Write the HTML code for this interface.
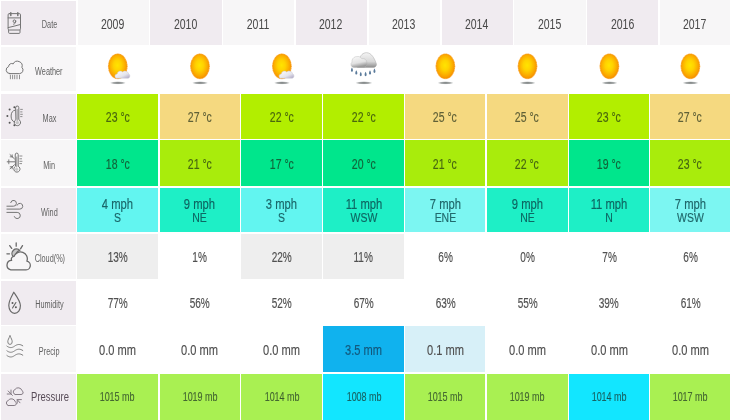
<!DOCTYPE html>
<html><head><meta charset="utf-8"><title>Weather history</title>
<style>
html,body{margin:0;padding:0;overflow:hidden;}
body{width:730px;height:420px;background:#fff;position:relative;overflow:hidden;font-family:"Liberation Sans",sans-serif;}
.c{position:absolute;display:flex;align-items:center;justify-content:center;text-align:center;}
.c span{display:inline-block;white-space:nowrap;transform-origin:50% 50%;position:relative;top:.9px;}
.lbl span{font-size:10px;color:#626262;transform:scaleX(.73);top:2.2px;}
.lbl.big span{font-size:13.5px;color:#584c58;transform:scaleX(.70);top:-.3px;}
.yr span{font-size:14px;color:#484848;transform:scaleX(.75);top:1.4px;}
.t14 span{font-size:14.7px;color:rgba(25,40,20,.68);-webkit-text-stroke:.18px currentColor;top:.5px;}
.t12 span{font-size:12.4px;color:rgba(25,45,35,.7);-webkit-text-stroke:.15px currentColor;top:.3px;}
.deg span{transform:scaleX(.715);}
.wind span{transform:scaleX(.765);line-height:12.5px;top:1.1px;color:rgba(10,70,75,.8);}
.wind i{font-style:normal;font-size:13.7px;position:relative;top:.7px;}
.pct span{transform:scaleX(.685);color:#505050;}
.mm span{transform:scaleX(.755);color:#505050;}
.mb span{transform:scaleX(.725);}
.ic{position:absolute;}
</style></head><body>

<div class="c" style="left:1px;top:0.8px;width:74.6px;height:44.3px;background:#f0ebf0"></div>
<div class="c lbl" style="left:19.200000000000003px;top:0px;width:60px;height:45.1px"><span>Date</span></div>
<div class="c" style="left:1px;top:46.5px;width:74.6px;height:44.8px;background:#f7f6f7"></div>
<div class="c lbl" style="left:19.200000000000003px;top:46.5px;width:60px;height:44.8px"><span>Weather</span></div>
<div class="c" style="left:1px;top:93.7px;width:74.6px;height:45.0px;background:#f0ebf0"></div>
<div class="c lbl" style="left:19.200000000000003px;top:93.7px;width:60px;height:45.0px"><span>Max</span></div>
<div class="c" style="left:1px;top:140.3px;width:74.6px;height:45.6px;background:#f7f6f7"></div>
<div class="c lbl" style="left:19.200000000000003px;top:140.3px;width:60px;height:45.6px"><span>Min</span></div>
<div class="c" style="left:1px;top:187.7px;width:74.6px;height:44.3px;background:#f0ebf0"></div>
<div class="c lbl" style="left:19.200000000000003px;top:187.7px;width:60px;height:44.3px"><span>Wind</span></div>
<div class="c" style="left:1px;top:233.6px;width:74.6px;height:45.4px;background:#f7f6f7"></div>
<div class="c lbl" style="left:20.0px;top:233.6px;width:60px;height:45.4px"><span>Cloud(%)</span></div>
<div class="c" style="left:1px;top:280.7px;width:74.6px;height:44.0px;background:#f0ebf0"></div>
<div class="c lbl" style="left:19.200000000000003px;top:280.7px;width:60px;height:44.0px"><span>Humidity</span></div>
<div class="c" style="left:1px;top:326.4px;width:74.6px;height:45.8px;background:#f7f6f7"></div>
<div class="c lbl" style="left:19.200000000000003px;top:326.4px;width:60px;height:45.8px"><span>Precip</span></div>
<div class="c" style="left:1px;top:373.8px;width:74.6px;height:46.2px;background:#f0ebf0"></div>
<div class="c lbl big" style="left:19.6px;top:373.8px;width:60px;height:46.2px"><span>Pressure</span></div>
<div class="c" style="left:77.6px;top:0px;width:71.3px;height:45.1px;background:#f7f6f7"></div>
<div class="c yr" style="left:76.9px;top:0px;width:71.4px;height:45.1px"><span>2009</span></div>
<div class="c" style="left:150.4px;top:0px;width:71.3px;height:45.1px;background:#f0ebf0"></div>
<div class="c yr" style="left:149.7px;top:0px;width:71.4px;height:45.1px"><span>2010</span></div>
<div class="c" style="left:223.2px;top:0px;width:71.3px;height:45.1px;background:#f7f6f7"></div>
<div class="c yr" style="left:222.5px;top:0px;width:71.4px;height:45.1px"><span>2011</span></div>
<div class="c" style="left:296.0px;top:0px;width:71.3px;height:45.1px;background:#f0ebf0"></div>
<div class="c yr" style="left:295.3px;top:0px;width:71.4px;height:45.1px"><span>2012</span></div>
<div class="c" style="left:368.8px;top:0px;width:71.3px;height:45.1px;background:#f7f6f7"></div>
<div class="c yr" style="left:368.1px;top:0px;width:71.4px;height:45.1px"><span>2013</span></div>
<div class="c" style="left:441.6px;top:0px;width:71.3px;height:45.1px;background:#f0ebf0"></div>
<div class="c yr" style="left:440.9px;top:0px;width:71.4px;height:45.1px"><span>2014</span></div>
<div class="c" style="left:514.4px;top:0px;width:71.3px;height:45.1px;background:#f7f6f7"></div>
<div class="c yr" style="left:513.7px;top:0px;width:71.4px;height:45.1px"><span>2015</span></div>
<div class="c" style="left:587.2px;top:0px;width:71.3px;height:45.1px;background:#f0ebf0"></div>
<div class="c yr" style="left:586.5px;top:0px;width:71.4px;height:45.1px"><span>2016</span></div>
<div class="c" style="left:660.0px;top:0px;width:70.0px;height:45.1px;background:#f7f6f7"></div>
<div class="c yr" style="left:659.3px;top:0px;width:71.4px;height:45.1px"><span>2017</span></div>
<svg class="ic" style="left:0;top:0" width="730" height="420" viewBox="0 0 730 420"><defs>
<radialGradient id="sg" cx="48%" cy="46%" r="60%"><stop offset="0" stop-color="#ffe400"/><stop offset=".35" stop-color="#ffd200"/><stop offset=".62" stop-color="#fcb400"/><stop offset=".84" stop-color="#f89a00"/><stop offset="1" stop-color="#ef7e00"/></radialGradient>
<radialGradient id="sh" cx="50%" cy="50%" r="50%"><stop offset="0" stop-color="#565c5c" stop-opacity=".85"/><stop offset=".6" stop-color="#666c6c" stop-opacity=".55"/><stop offset="1" stop-color="#868c8c" stop-opacity="0"/></radialGradient>
<linearGradient id="cg" x1="0" y1="0" x2="0" y2="1"><stop offset="0" stop-color="#f4f4f4"/><stop offset=".6" stop-color="#d8d8d8"/><stop offset="1" stop-color="#8c8c8c"/></linearGradient>
<linearGradient id="cg2" x1="0" y1="0" x2=".3" y2="1"><stop offset="0" stop-color="#fbfbfb"/><stop offset=".65" stop-color="#e2e2e2"/><stop offset="1" stop-color="#9a9a9a"/></linearGradient>
<linearGradient id="cw" x1="0" y1="0" x2="1" y2="1"><stop offset="0" stop-color="#ffffff"/><stop offset=".6" stop-color="#e4e4ec"/><stop offset="1" stop-color="#a9a0c0"/></linearGradient>
<filter id="bl" x="-20%" y="-20%" width="140%" height="140%"><feGaussianBlur stdDeviation=".5"/></filter>
</defs>
<g fill="none" stroke="#757575" stroke-width="1.0" stroke-linecap="round" stroke-linejoin="round">
<rect x="8.1" y="13.6" width="12.4" height="16.4" rx="1.2"/>
<path d="M8.1 17.9H20.5"/>
<path d="M10.8 12.8V15.4M17.8 12.8V15.4" stroke-width="1.5"/>
<circle cx="14.4" cy="21.2" r="1.3"/><path d="M15.7 21.2C15.7 23 15 24 13.6 24.2"/>
<path d="M8.2 27.6C12 26.8 16 25.6 20.4 24.5"/>
<path d="M8.6 30.2V32.4Q8.6 33.4 9.6 33.4H19Q20 33.4 20 32.4V30.2"/>
</g>
<g fill="none" stroke="#757575" stroke-width="1.0" stroke-linecap="round" stroke-linejoin="round">
<path d="M9.8 73.6H19.4A3.6 3.6 0 0 0 21.9 67.4A4.7 4.7 0 0 0 13.2 63.9A3.1 3.1 0 0 0 8.6 66.6A3.6 3.6 0 0 0 9.8 73.6Z"/>
<path d="M10.4 75.2V78.8M12.6 75.2V78.8M14.7 75.2V78.8M17 75.2V78.8M19.5 75.2V78.8" stroke-width=".8"/>
</g>
<g fill="none" stroke="#757575" stroke-width="1.0" stroke-linecap="round" stroke-linejoin="round">
<path d="M15.6 107.6A1.6 1.6 0 0 1 18.8 107.6V119.6A3.2 3.2 0 1 1 15.6 119.8Z"/>
<circle cx="17.3" cy="122.6" r="1.7" fill="#c4c4c4" stroke="none"/>
<path d="M17.2 109.5V120.5" stroke-width=".7"/>
<path d="M14.8 110.2A4.4 6 0 0 0 14.6 122"/>
<path d="M20.6 109.4H22.4M20.6 111.9H22.0M20.6 114.3H22.4M20.6 116.6H22.0" stroke-width=".8"/>
<g fill="#555" stroke="none"><circle cx="9.6" cy="109.5" r="1"/><circle cx="7.4" cy="116.1" r="1"/><circle cx="9.6" cy="122.7" r="1"/><circle cx="14.4" cy="107.3" r="1"/><circle cx="14.4" cy="125.3" r="1"/></g>
</g>
<g fill="none" stroke="#757575" stroke-width="1.0" stroke-linecap="round" stroke-linejoin="round">
<path d="M15.2 154.6A1.5 1.5 0 0 1 18.2 154.6V166.2A3.1 3.1 0 1 1 15.2 166.4Z"/>
<path d="M16.7 157V167" stroke-width=".7"/>
<circle cx="16.6" cy="169.3" r="1.6" fill="#c8c8c8" stroke="none"/>
<path d="M7.2 161.8H14.6M10 154.6L14.4 158.8M10 168.8L14.4 164.8"/>
<path d="M8.8 159.8V163.8M10.2 156.8H12.4M12.2 154.8V157M10.2 166.8H12.4M12.2 166.6V168.8" stroke-width=".9"/>
<path d="M19.8 156H22M19.8 158.8H21.6M19.8 161.3H22M19.8 163.6H21.6" stroke-width=".8"/>
</g>
<g fill="none" stroke="#757575" stroke-width="1.0" stroke-linecap="round" stroke-linejoin="round">
<path d="M6.9 206.2H13.4A2.9 2.9 0 1 0 10.7 202.6"/>
<path d="M6.9 209.1H19.8A2.9 2.9 0 1 0 17.1 205.2"/>
<path d="M6.9 212.4H17.2A3.1 3.1 0 1 1 14.3 216.6"/>
</g>
<g fill="none" stroke="#6a6a6a" stroke-width="1.3" stroke-linecap="round" stroke-linejoin="round">
<path d="M13.2 256.6A4 4 0 0 1 19.8 250.4A6.6 6.6 0 0 0 15.6 257Z" fill="#c6c6c6"/>
<path d="M10.8 269.8H24.8A4.4 4.4 0 0 0 26.9 261.2A6.8 6.8 0 0 0 14 256.4A2.8 2.8 0 0 0 11.6 260.4A4.75 4.75 0 0 0 10.8 269.8Z" fill="#f7f6f7"/>
<path d="M16.2 242.8V246.2M9.7 245.6L11.7 248.4M22.5 245.6L20.5 248.8M6.9 253.8H9.5"/>
</g>
<g fill="none" stroke="#686868" stroke-width="1.15" stroke-linecap="round" stroke-linejoin="round">
<path d="M13.8 292.2C11.2 297 8.7 301 8.8 305.6C8.9 310 11.4 313.3 14.6 313.3C18 313.3 20.5 310 20.4 305.6C20.3 301 16.6 296.4 13.8 292.2Z"/>
<path d="M15.9 302.5L12.5 308"/>
<circle cx="12.5" cy="303" r="1" fill="#5a5a5a" stroke="none"/><circle cx="15.9" cy="307.2" r="1" fill="#5a5a5a" stroke="none"/>
</g>
<g fill="none" stroke="#808080" stroke-width="1.0" stroke-linecap="round" stroke-linejoin="round">
<path d="M10 335.9C8.8 338.4 7.8 340 7.8 341.8A2.2 2.6 0 0 0 12.2 341.8C12.2 340 11.2 338.4 10 335.9Z"/>
<path d="M6.9 346.1C9.5 348.2 12 348 14.5 346.2C17.5 344 20 343.9 22.8 345.8"/>
<path d="M6.9 350.8C9.5 352.9 12 352.7 14.5 350.9C17.5 348.7 20 348.6 22.8 350.5"/>
<path d="M6.9 355.5C9.5 357.6 12 357.4 14.5 355.6C17.5 353.4 20 353.3 22.8 355.2"/>
</g>
<g fill="none" stroke="#857c85" stroke-width="1.0" stroke-linecap="round" stroke-linejoin="round">
<path d="M15.3 394.5H21A2 2 0 0 0 22 390.7A3.9 3.9 0 0 0 15 389.5A2.6 2.6 0 0 0 15.3 394.5Z"/>
<path d="M8.3 405.5H14.2A2 2 0 0 0 15.2 401.7A3.9 3.9 0 0 0 8.2 400.5A2.6 2.6 0 0 0 8.3 405.5Z"/>
<path d="M7.2 394H11V390M11 394L8.2 391M11.2 394.2L12.4 395.4"/>
<path d="M21.4 399.6H17.2V403.2M17.2 399.6L20 402.8"/>
</g>
<ellipse cx="117.9" cy="82.9" rx="8.2" ry="1.7" fill="url(#sh)"/>
<ellipse cx="117.8" cy="66.3" rx="9.9" ry="12.9" fill="#ffa820" opacity=".5" filter="url(#bl)"/>
<ellipse cx="117.8" cy="66.3" rx="9.2" ry="12.2" fill="url(#sg)" stroke="#f58a00" stroke-width=".7" stroke-dasharray="1 .7"/>
<path transform="translate(114.0 70.4)" d="M2.2 7.8H14.2A2.4 2.4 0 0 0 14.6 3.4A3.6 3.6 0 0 0 8.6 1.6A3.2 3.2 0 0 0 3.2 3.6A2.2 2.2 0 0 0 2.2 7.8Z" fill="url(#cw)" stroke="#c9c9d4" stroke-width=".5"/>
<ellipse cx="200.1" cy="82.9" rx="8.2" ry="1.7" fill="url(#sh)"/>
<ellipse cx="200.0" cy="66.3" rx="9.9" ry="12.9" fill="#ffa820" opacity=".5" filter="url(#bl)"/>
<ellipse cx="200.0" cy="66.3" rx="9.2" ry="12.2" fill="url(#sg)" stroke="#f58a00" stroke-width=".7" stroke-dasharray="1 .7"/>
<ellipse cx="282.0" cy="82.9" rx="8.2" ry="1.7" fill="url(#sh)"/>
<ellipse cx="281.9" cy="66.3" rx="9.9" ry="12.9" fill="#ffa820" opacity=".5" filter="url(#bl)"/>
<ellipse cx="281.9" cy="66.3" rx="9.2" ry="12.2" fill="url(#sg)" stroke="#f58a00" stroke-width=".7" stroke-dasharray="1 .7"/>
<path transform="translate(278.1 70.4)" d="M2.2 7.8H14.2A2.4 2.4 0 0 0 14.6 3.4A3.6 3.6 0 0 0 8.6 1.6A3.2 3.2 0 0 0 3.2 3.6A2.2 2.2 0 0 0 2.2 7.8Z" fill="url(#cw)" stroke="#c9c9d4" stroke-width=".5"/>
<ellipse cx="363.9" cy="82.9" rx="8.8" ry="1.7" fill="url(#sh)"/>
<g transform="translate(350.4 52.4)"><path d="M7 15H23.4A3 3 0 0 0 25.6 10.4C24 6 21 .3 16.2 .3C12.4 .3 10 3 9.2 6.4Z" fill="url(#cg)" stroke="#a2a2a2" stroke-width=".5"/><path d="M3.4 15A3 3 0 0 1 1.5 9.8A5.5 5.5 0 0 1 11.4 6.2A4.6 4.6 0 0 1 13.8 15Z" fill="url(#cg2)" stroke="#b4b4b4" stroke-width=".4"/><path d="M2.8 14.7H24" stroke="#7c7c7c" stroke-width="1" opacity=".75" filter="url(#bl)"/></g>
<path d="M351.9 67.4C350.6 69.6 350.6 71.8 351.9 71.8C353.3 71.8 353.3 69.6 351.9 67.4Z" fill="#5b7b9b"/>
<path d="M356.3 70.2C354.9 72.4 354.9 74.6 356.3 74.6C357.7 74.6 357.7 72.4 356.3 70.2Z" fill="#5b7b9b"/>
<path d="M360.8 71.8C359.4 74.0 359.4 76.2 360.8 76.2C362.1 76.2 362.1 74.0 360.8 71.8Z" fill="#5b7b9b"/>
<path d="M365.6 71.8C364.2 74.0 364.2 76.2 365.6 76.2C367.0 76.2 367.0 74.0 365.6 71.8Z" fill="#5b7b9b"/>
<path d="M370.0 70.2C368.6 72.4 368.6 74.6 370.0 74.6C371.4 74.6 371.4 72.4 370.0 70.2Z" fill="#5b7b9b"/>
<path d="M374.4 68.5C373.1 70.7 373.1 72.9 374.4 72.9C375.8 72.9 375.8 70.7 374.4 68.5Z" fill="#5b7b9b"/>
<ellipse cx="445.6" cy="82.9" rx="8.2" ry="1.7" fill="url(#sh)"/>
<ellipse cx="445.4" cy="66.3" rx="9.9" ry="12.9" fill="#ffa820" opacity=".5" filter="url(#bl)"/>
<ellipse cx="445.4" cy="66.3" rx="9.2" ry="12.2" fill="url(#sg)" stroke="#f58a00" stroke-width=".7" stroke-dasharray="1 .7"/>
<ellipse cx="527.6" cy="82.9" rx="8.2" ry="1.7" fill="url(#sh)"/>
<ellipse cx="527.5" cy="66.3" rx="9.9" ry="12.9" fill="#ffa820" opacity=".5" filter="url(#bl)"/>
<ellipse cx="527.5" cy="66.3" rx="9.2" ry="12.2" fill="url(#sg)" stroke="#f58a00" stroke-width=".7" stroke-dasharray="1 .7"/>
<ellipse cx="609.5" cy="82.9" rx="8.2" ry="1.7" fill="url(#sh)"/>
<ellipse cx="609.4" cy="66.3" rx="9.9" ry="12.9" fill="#ffa820" opacity=".5" filter="url(#bl)"/>
<ellipse cx="609.4" cy="66.3" rx="9.2" ry="12.2" fill="url(#sg)" stroke="#f58a00" stroke-width=".7" stroke-dasharray="1 .7"/>
<ellipse cx="690.5" cy="82.9" rx="8.2" ry="1.7" fill="url(#sh)"/>
<ellipse cx="690.4" cy="66.3" rx="9.9" ry="12.9" fill="#ffa820" opacity=".5" filter="url(#bl)"/>
<ellipse cx="690.4" cy="66.3" rx="9.2" ry="12.2" fill="url(#sg)" stroke="#f58a00" stroke-width=".7" stroke-dasharray="1 .7"/>
</svg>
<div class="c t14 deg" style="left:76.85px;top:93.7px;width:81.50px;height:45.0px;background:#b2ee00;"><span>23 °c</span></div>
<div class="c t14 deg" style="left:159.65px;top:93.7px;width:80.30px;height:45.0px;background:#f5d980;"><span>27 °c</span></div>
<div class="c t14 deg" style="left:241.25px;top:93.7px;width:80.90px;height:45.0px;background:#b2ee00;"><span>22 °c</span></div>
<div class="c t14 deg" style="left:323.45px;top:93.7px;width:80.40px;height:45.0px;background:#b2ee00;"><span>22 °c</span></div>
<div class="c t14 deg" style="left:405.15px;top:93.7px;width:80.20px;height:45.0px;background:#f5d980;"><span>25 °c</span></div>
<div class="c t14 deg" style="left:486.65px;top:93.7px;width:81.30px;height:45.0px;background:#f5d980;"><span>25 °c</span></div>
<div class="c t14 deg" style="left:569.25px;top:93.7px;width:79.90px;height:45.0px;background:#b2ee00;"><span>23 °c</span></div>
<div class="c t14 deg" style="left:650.45px;top:93.7px;width:79.55px;height:45.0px;background:#f5d980;"><span>27 °c</span></div>
<div class="c t14 deg" style="left:76.85px;top:140.3px;width:81.50px;height:45.6px;background:#00e68c;"><span>18 °c</span></div>
<div class="c t14 deg" style="left:159.65px;top:140.3px;width:80.30px;height:45.6px;background:#a9ec0c;"><span>21 °c</span></div>
<div class="c t14 deg" style="left:241.25px;top:140.3px;width:80.90px;height:45.6px;background:#00e68c;"><span>17 °c</span></div>
<div class="c t14 deg" style="left:323.45px;top:140.3px;width:80.40px;height:45.6px;background:#00e68c;"><span>20 °c</span></div>
<div class="c t14 deg" style="left:405.15px;top:140.3px;width:80.20px;height:45.6px;background:#a9ec0c;"><span>21 °c</span></div>
<div class="c t14 deg" style="left:486.65px;top:140.3px;width:81.30px;height:45.6px;background:#a9ec0c;"><span>22 °c</span></div>
<div class="c t14 deg" style="left:569.25px;top:140.3px;width:79.90px;height:45.6px;background:#00e68c;"><span>19 °c</span></div>
<div class="c t14 deg" style="left:650.45px;top:140.3px;width:79.55px;height:45.6px;background:#a9ec0c;"><span>23 °c</span></div>
<div class="c t14 wind" style="left:76.85px;top:187.7px;width:81.50px;height:44.3px;background:#62f5f0;"><span>4 mph<br><i>S</i></span></div>
<div class="c t14 wind" style="left:159.65px;top:187.7px;width:80.30px;height:44.3px;background:#1eefc6;"><span>9 mph<br><i>NE</i></span></div>
<div class="c t14 wind" style="left:241.25px;top:187.7px;width:80.90px;height:44.3px;background:#62f5f0;"><span>3 mph<br><i>S</i></span></div>
<div class="c t14 wind" style="left:323.45px;top:187.7px;width:80.40px;height:44.3px;background:#1eefc6;"><span>11 mph<br><i>WSW</i></span></div>
<div class="c t14 wind" style="left:405.15px;top:187.7px;width:80.20px;height:44.3px;background:#7cf6f2;"><span>7 mph<br><i>ENE</i></span></div>
<div class="c t14 wind" style="left:486.65px;top:187.7px;width:81.30px;height:44.3px;background:#1eefc6;"><span>9 mph<br><i>NE</i></span></div>
<div class="c t14 wind" style="left:569.25px;top:187.7px;width:79.90px;height:44.3px;background:#1eefc6;"><span>11 mph<br><i>N</i></span></div>
<div class="c t14 wind" style="left:650.45px;top:187.7px;width:79.55px;height:44.3px;background:#7cf6f2;"><span>7 mph<br><i>WSW</i></span></div>
<div class="c t14 pct" style="left:76.85px;top:233.6px;width:81.50px;height:45.4px;background:#eeeeee;"><span>13%</span></div>
<div class="c t14 pct" style="left:159.65px;top:233.6px;width:80.30px;height:45.4px;"><span>1%</span></div>
<div class="c t14 pct" style="left:241.25px;top:233.6px;width:80.90px;height:45.4px;background:#eeeeee;"><span>22%</span></div>
<div class="c t14 pct" style="left:323.45px;top:233.6px;width:80.40px;height:45.4px;background:#eeeeee;"><span>11%</span></div>
<div class="c t14 pct" style="left:405.15px;top:233.6px;width:80.20px;height:45.4px;"><span>6%</span></div>
<div class="c t14 pct" style="left:486.65px;top:233.6px;width:81.30px;height:45.4px;"><span>0%</span></div>
<div class="c t14 pct" style="left:569.25px;top:233.6px;width:79.90px;height:45.4px;"><span>7%</span></div>
<div class="c t14 pct" style="left:650.45px;top:233.6px;width:79.55px;height:45.4px;"><span>6%</span></div>
<div class="c t14 pct" style="left:76.85px;top:280.7px;width:81.50px;height:44.0px;"><span>77%</span></div>
<div class="c t14 pct" style="left:159.65px;top:280.7px;width:80.30px;height:44.0px;"><span>56%</span></div>
<div class="c t14 pct" style="left:241.25px;top:280.7px;width:80.90px;height:44.0px;"><span>52%</span></div>
<div class="c t14 pct" style="left:323.45px;top:280.7px;width:80.40px;height:44.0px;"><span>67%</span></div>
<div class="c t14 pct" style="left:405.15px;top:280.7px;width:80.20px;height:44.0px;"><span>63%</span></div>
<div class="c t14 pct" style="left:486.65px;top:280.7px;width:81.30px;height:44.0px;"><span>55%</span></div>
<div class="c t14 pct" style="left:569.25px;top:280.7px;width:79.90px;height:44.0px;"><span>39%</span></div>
<div class="c t14 pct" style="left:650.45px;top:280.7px;width:79.55px;height:44.0px;"><span>61%</span></div>
<div class="c t14 mm" style="left:76.85px;top:326.4px;width:81.50px;height:45.8px;"><span>0.0 mm</span></div>
<div class="c t14 mm" style="left:159.65px;top:326.4px;width:80.30px;height:45.8px;"><span>0.0 mm</span></div>
<div class="c t14 mm" style="left:241.25px;top:326.4px;width:80.90px;height:45.8px;"><span>0.0 mm</span></div>
<div class="c t14 mm" style="left:323.45px;top:326.4px;width:80.40px;height:45.8px;background:#10b2ee;"><span style="color:rgba(20,60,90,.75)">3.5 mm</span></div>
<div class="c t14 mm" style="left:405.15px;top:326.4px;width:80.20px;height:45.8px;background:#d7f0f8;"><span>0.1 mm</span></div>
<div class="c t14 mm" style="left:486.65px;top:326.4px;width:81.30px;height:45.8px;"><span>0.0 mm</span></div>
<div class="c t14 mm" style="left:569.25px;top:326.4px;width:79.90px;height:45.8px;"><span>0.0 mm</span></div>
<div class="c t14 mm" style="left:650.45px;top:326.4px;width:79.55px;height:45.8px;"><span>0.0 mm</span></div>
<div class="c t12 mb" style="left:76.85px;top:373.8px;width:81.50px;height:46.2px;background:#a9f052;"><span>1015 mb</span></div>
<div class="c t12 mb" style="left:159.65px;top:373.8px;width:80.30px;height:46.2px;background:#a9f052;"><span>1019 mb</span></div>
<div class="c t12 mb" style="left:241.25px;top:373.8px;width:80.90px;height:46.2px;background:#a9f052;"><span>1014 mb</span></div>
<div class="c t12 mb" style="left:323.45px;top:373.8px;width:80.40px;height:46.2px;background:#12e6ff;"><span>1008 mb</span></div>
<div class="c t12 mb" style="left:405.15px;top:373.8px;width:80.20px;height:46.2px;background:#a9f052;"><span>1015 mb</span></div>
<div class="c t12 mb" style="left:486.65px;top:373.8px;width:81.30px;height:46.2px;background:#a9f052;"><span>1019 mb</span></div>
<div class="c t12 mb" style="left:569.25px;top:373.8px;width:79.90px;height:46.2px;background:#12e6ff;"><span>1014 mb</span></div>
<div class="c t12 mb" style="left:650.45px;top:373.8px;width:79.55px;height:46.2px;background:#a9f052;"><span>1017 mb</span></div>
</body></html>
